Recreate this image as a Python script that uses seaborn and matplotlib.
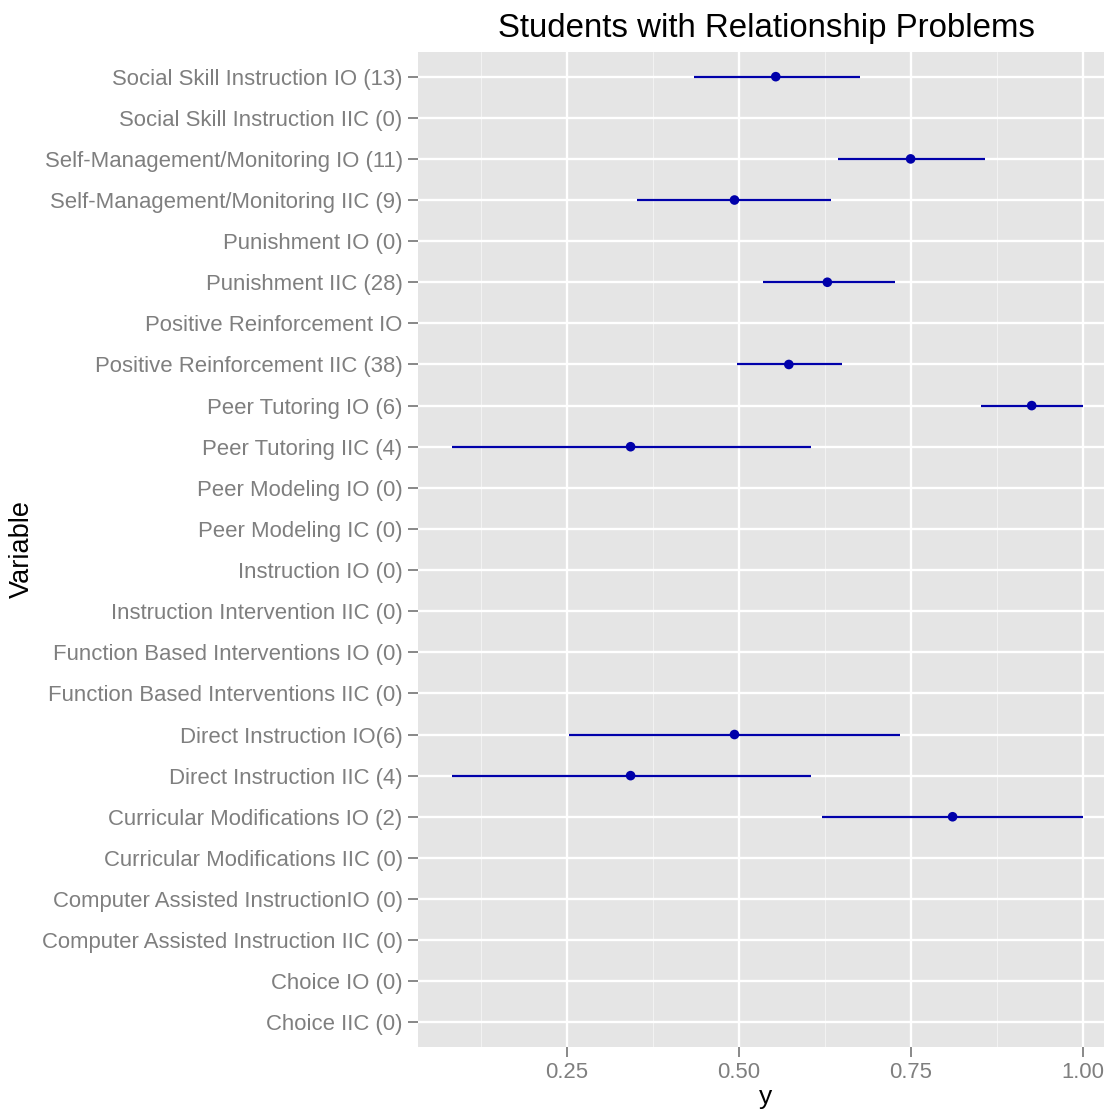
import numpy as np
import pandas as pd
import matplotlib
matplotlib.use("Agg")
import matplotlib.pyplot as plt
import seaborn as sns

labels = [
    "Social Skill Instruction IO (13)",
    "Social Skill Instruction IIC (0)",
    "Self-Management/Monitoring IO (11)",
    "Self-Management/Monitoring IIC (9)",
    "Punishment IO (0)",
    "Punishment IIC (28)",
    "Positive Reinforcement IO",
    "Positive Reinforcement IIC (38)",
    "Peer Tutoring IO (6)",
    "Peer Tutoring IIC (4)",
    "Peer Modeling IO (0)",
    "Peer Modeling IC (0)",
    "Instruction IO (0)",
    "Instruction Intervention IIC (0)",
    "Function Based Interventions IO (0)",
    "Function Based Interventions IIC (0)",
    "Direct Instruction IO(6)",
    "Direct Instruction IIC (4)",
    "Curricular Modifications IO (2)",
    "Curricular Modifications IIC (0)",
    "Computer Assisted InstructionIO (0)",
    "Computer Assisted Instruction IIC (0)",
    "Choice IO (0)",
    "Choice IIC (0)",
]
nan = np.nan
estimate = [0.554, nan, 0.750, 0.494, nan, 0.629, nan, 0.573, 0.926, 0.343,
            nan, nan, nan, nan, nan, nan, 0.494, 0.343, 0.811, nan, nan, nan, nan, nan]
lower = [0.435, nan, 0.645, 0.353, nan, 0.535, nan, 0.497, 0.853, 0.083,
         nan, nan, nan, nan, nan, nan, 0.253, 0.083, 0.621, nan, nan, nan, nan, nan]
upper = [0.676, nan, 0.858, 0.635, nan, 0.727, nan, 0.650, 1.000, 0.605,
         nan, nan, nan, nan, nan, nan, 0.735, 0.605, 1.000, nan, nan, nan, nan, nan]

df = pd.DataFrame({"Variable": labels, "y": estimate, "lo": lower, "hi": upper})
df["pos"] = np.arange(len(df))

sns.set_theme(style="darkgrid", rc={
    "axes.facecolor": "#E5E5E5",
    "grid.color": "white",
    "axes.edgecolor": "none",
})
plt.rcParams["font.family"] = ["Liberation Sans", "DejaVu Sans"]

W, H = 1104, 1115
fig = plt.figure(figsize=(W / 100, H / 100), dpi=100)
left, right, top, bottom = 418, 1104, 52, 1047
ax = fig.add_axes([left / W, 1 - bottom / H, (right - left) / W, (bottom - top) / H])

color = "#0000AA"
valid = df.dropna()
ax.hlines(valid["pos"], valid["lo"], valid["hi"], color=color, lw=1.6, zorder=3)
sns.scatterplot(data=valid, x="y", y="pos", ax=ax, color=color, s=48,
                edgecolor="none", zorder=4, legend=False)

n = len(df)
ax.set_ylim(n - 1 + 0.6, -0.6)
ax.set_xlim(0.034, 0.034 + (right - left) / 688.0)
ax.set_yticks(df["pos"])
ax.set_yticklabels(df["Variable"])
ax.set_xticks([0.25, 0.50, 0.75, 1.00])
ax.set_xticklabels(["0.25", "0.50", "0.75", "1.00"])
ax.set_xticks([0.125, 0.375, 0.625, 0.875], minor=True)

ax.grid(which="major", color="white", lw=1.7)
ax.grid(which="minor", axis="x", color="#F2F2F2", lw=0.8)
ax.set_axisbelow(True)

ax.tick_params(axis="both", which="major", length=7, width=1.3, color="#7F7F7F",
               labelcolor="#7F7F7F", labelsize=15.9, left=True, bottom=True, pad=4)
ax.tick_params(axis="both", which="minor", length=0)
for s in ax.spines.values():
    s.set_visible(False)

pw, ph = right - left, bottom - top
cx = (766 - left) / pw
ax.set_xlabel("y", fontsize=19, color="black")
ax.xaxis.set_label_coords(cx, (bottom - 1085) / ph)
ax.xaxis.label.set_va("top")
ax.set_ylabel("Variable", fontsize=19.5, color="black")
ax.yaxis.set_label_coords((22 - left) / pw, 0.5)
ax.yaxis.label.set_va("center")
ax.set_title("Students with Relationship Problems", fontsize=23.8, color="black", pad=11,
             x=cx)

fig.savefig("out.png", dpi=100)
